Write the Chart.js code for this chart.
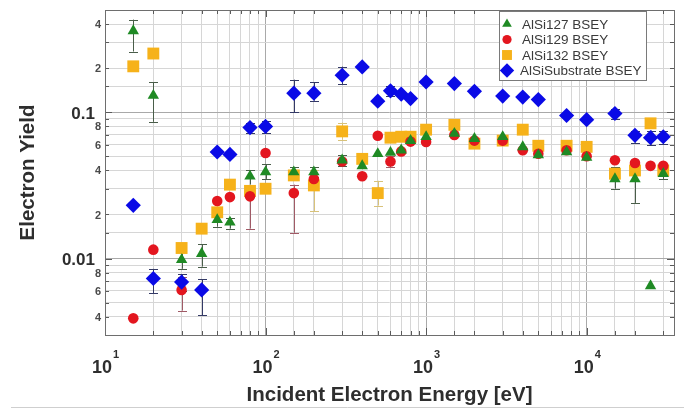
<!DOCTYPE html>
<html><head><meta charset="utf-8">
<script src="https://cdn.jsdelivr.net/npm/chart.js@4/dist/chart.umd.min.js"></script>
<style>html,body{margin:0;padding:0;background:#fff;}#wrap{width:684px;height:409px;}</style>
</head><body><div id="wrap"><canvas id="c" width="684" height="409"></canvas></div>
<script>
// ---- data ----
const energies = [15,20,30,40,50,60,80,100,150,200,300,400,500,600,700,800,1000,1500,2000,3000,4000,5000,7500,10000,15000,20000,25000,30000];
const seriesNames = ['AlSi127 BSEY','AlSi129 BSEY','AlSi132 BSEY','AlSiSubstrate BSEY'];
const aisi127 = [0.36,0.13,0.0098,0.0108,0.0184,0.0177,0.0365,0.039,0.039,0.039,0.047,0.043,0.052,0.053,0.055,0.064,0.068,0.0715,0.066,0.068,0.058,0.051,0.0535,0.049,0.035,0.035,0.0065,0.038];
const aisi127Lo = [0.26,0.086,0.0085,0.0088,0.0165,0.016,0.032,0.035,0.036,0.036,0.043,null,null,null,null,null,null,null,null,null,null,null,null,null,0.030,0.024,null,0.035];
const aisi127Hi = [0.43,0.16,0.0112,0.0125,0.020,0.019,0.040,0.044,0.042,0.042,0.051,null,null,null,null,null,null,null,null,null,null,null,null,null,0.042,0.042,null,0.043];
const aisi129 = [0.0039,0.0115,0.0061,null,0.0247,0.0263,0.0266,0.0526,0.028,0.035,0.046,0.0365,0.069,0.046,0.054,0.063,0.0626,0.070,0.064,0.064,0.055,0.052,0.055,0.050,0.047,0.045,0.043,0.043];
const aisi129Lo = [null,null,0.0044,null,null,null,0.016,null,0.015,null,null,null,null,0.042,null,null,null,null,null,null,null,null,null,null,null,null,null,null];
const aisi129Hi = [null,null,0.0075,null,null,null,0.030,null,0.032,null,null,null,null,0.050,null,null,null,null,null,null,null,null,null,null,null,null,null,null];
const aisi132 = [0.206,0.252,0.0118,0.016,0.0207,0.032,0.029,0.030,0.037,0.0316,0.074,0.048,0.028,0.067,0.068,0.068,0.076,0.082,0.061,0.064,0.076,0.059,0.059,0.058,0.038,0.040,0.084,0.040];
const aisi132Lo = [null,null,null,null,null,null,null,null,null,0.021,0.065,null,0.023,null,null,null,null,null,null,null,null,null,null,null,null,null,null,null];
const aisi132Hi = [null,null,null,null,null,null,null,null,null,0.040,0.085,null,0.034,null,null,null,null,null,null,null,null,null,null,null,null,null,null,null];
const substrate = [0.0231,0.0073,0.0069,0.0061,0.0535,0.0515,0.0785,0.080,0.135,0.135,0.179,0.204,0.119,0.140,0.133,0.124,0.161,0.157,0.139,0.129,0.127,0.122,0.095,0.089,0.098,0.0695,0.067,0.068];
const substrateLo = [null,0.0058,0.0060,0.0041,null,null,0.072,0.072,0.100,0.120,0.155,null,null,0.130,null,null,null,null,null,null,null,null,null,null,0.090,0.062,0.060,0.061];
const substrateHi = [null,0.0085,0.0078,0.0072,null,null,0.085,0.087,0.167,0.160,0.205,null,null,0.150,null,null,null,null,null,null,null,null,null,null,0.106,0.075,0.075,0.074];
const xTickValues = [10,100,1000,10000];
const xTickExps = ['1','2','3','4'];
const yTickValues = [0.4,0.2,0.1,0.08,0.06,0.04,0.02,0.01,0.008,0.006,0.004];
const yTickTexts = ['4','2','0.1','8','6','4','2','0.01','8','6','4'];
const xTitle = 'Incident Electron Energy [eV]';
const yTitle = 'Electron Yield';

// ---- styles ----
const FONT = '"Liberation Sans", Arial, Helvetica, sans-serif';
const styles = [
  {color:'#1f8a24', err:'#4a5e4a', style:'triangle', r:6.6, lr:5.6},
  {color:'#e3161f', err:'#a05a66', style:'circle', r:5.3, lr:4.6},
  {color:'#f6b21a', err:'#d8c27a', style:'rect', r:8.4, lr:7.0},
  {color:'#0a0ae6', err:'#343a66', style:'rectRot', r:7.6, lr:7.2}
];
const values = [aisi127, aisi129, aisi132, substrate];
const los = [aisi127Lo, aisi129Lo, aisi132Lo, substrateLo];
const his = [aisi127Hi, aisi129Hi, aisi132Hi, substrateHi];
const drawOrder = [1,2,3,0];

const datasets = values.map((vals,k)=>({
  label: seriesNames[k],
  data: energies.map((x,i)=>({x:x,y:vals[i]})).filter(p=>p.y!=null),
  pointStyle: styles[k].style,
  pointRadius: styles[k].r,
  pointHoverRadius: styles[k].r,
  backgroundColor: styles[k].color,
  borderColor: styles[k].color,
  pointBorderWidth: 0,
  borderWidth: 0,
  showLine: false,
  order: drawOrder[k]
}));

function isDecade(v){ const l=Math.log10(v); return Math.abs(l-Math.round(l))<1e-6; }

const decor = {
  id:'decor',
  beforeDatasetsDraw(chart){
    const ctx=chart.ctx, xs=chart.scales.x, ys=chart.scales.y, a=chart.chartArea;
    ctx.save();
    ctx.beginPath(); ctx.rect(a.left,a.top,a.right-a.left,a.bottom-a.top); ctx.clip();
    ctx.lineWidth=1;
    [2,1,0,3].forEach(k=>{
      ctx.strokeStyle=styles[k].err;
      energies.forEach((e,i)=>{
        const lo=los[k][i], hi=his[k][i];
        if(lo==null||hi==null) return;
        const px=Math.round(xs.getPixelForValue(e))+0.5;
        const y1=ys.getPixelForValue(lo), y2=ys.getPixelForValue(hi);
        ctx.beginPath();
        ctx.moveTo(px,y1); ctx.lineTo(px,y2);
        ctx.moveTo(px-4.5,Math.round(y1)+0.5); ctx.lineTo(px+4.5,Math.round(y1)+0.5);
        ctx.moveTo(px-4.5,Math.round(y2)+0.5); ctx.lineTo(px+4.5,Math.round(y2)+0.5);
        ctx.stroke();
      });
    });
    ctx.restore();
  },
  afterDraw(chart){
    const ctx=chart.ctx, xs=chart.scales.x, ys=chart.scales.y, a=chart.chartArea;
    ctx.save();
    // inner tick marks
    ctx.strokeStyle='#5a5a5a'; ctx.lineWidth=1;
    ctx.beginPath();
    xs.ticks.forEach(t=>{
      const px=Math.round(xs.getPixelForValue(t.value))+0.5;
      if(px<=a.left+1||px>=a.right-1) return;
      const len=isDecade(t.value)?7:4;
      ctx.moveTo(px,a.bottom); ctx.lineTo(px,a.bottom-len);
      ctx.moveTo(px,a.top); ctx.lineTo(px,a.top+len);
    });
    ys.ticks.forEach(t=>{
      const py=Math.round(ys.getPixelForValue(t.value))+0.5;
      if(py<=a.top+1||py>=a.bottom-1) return;
      const len=isDecade(t.value)?7:4;
      ctx.moveTo(a.left,py); ctx.lineTo(a.left+len,py);
      ctx.moveTo(a.right,py); ctx.lineTo(a.right-len,py);
    });
    ctx.stroke();
    // box
    ctx.strokeStyle='#6e6e6e';
    ctx.strokeRect(Math.round(a.left)+0.5,Math.round(a.top)+0.5,Math.round(a.right-a.left),Math.round(a.bottom-a.top));
    // y tick labels
    ctx.textAlign='right'; ctx.textBaseline='middle';
    yTickValues.forEach((v,i)=>{
      const py=ys.getPixelForValue(v);
      const txt=yTickTexts[i];
      if(txt.length>1){ ctx.font='bold 17px '+FONT; ctx.fillStyle='#2e2e2e'; ctx.fillText(txt,a.left-10,py+2); }
      else { ctx.font='bold 11px '+FONT; ctx.fillStyle='#4a4a4a'; ctx.fillText(txt,a.left-4,py+1); }
    });
    // x tick labels 10^n
    ctx.textBaseline='alphabetic';
    xTickValues.forEach((v,i)=>{
      const px=xs.getPixelForValue(v);
      ctx.font='bold 18px '+FONT; ctx.fillStyle='#2e2e2e'; ctx.textAlign='center';
      ctx.fillText('10',px-3,373);
      ctx.font='bold 11px '+FONT; ctx.textAlign='left';
      ctx.fillText(xTickExps[i],px+8,358);
    });
    // axis titles
    ctx.fillStyle='#2e2e2e'; ctx.font='bold 20.5px '+FONT; ctx.textAlign='center';
    ctx.fillText(xTitle,(a.left+a.right)/2,401);
    ctx.save();
    ctx.translate(34,(a.top+a.bottom)/2);
    ctx.rotate(-Math.PI/2);
    ctx.fillText(yTitle,0,0);
    ctx.restore();
    // legend
    ctx.fillStyle='#ffffff'; ctx.fillRect(499.5,11.5,147,69);
    ctx.strokeStyle='#7a7a7a'; ctx.lineWidth=1; ctx.strokeRect(499.5,11.5,147,69);
    const rows=[24,39.5,55,70.5];
    ctx.font='13.5px '+FONT; ctx.textAlign='left'; ctx.textBaseline='middle';
    seriesNames.forEach((n,k)=>{
      ctx.fillStyle=styles[k].color;
      Chart.helpers.drawPoint(ctx,{pointStyle:styles[k].style,radius:styles[k].lr,rotation:0,borderWidth:0},507,rows[k]);
      ctx.fillStyle='#3a3a3a';
      ctx.fillText(n,k===3?520:522,rows[k]+1);
    });
    // bottom rule of the picture
    ctx.strokeStyle='#cfcfcf'; ctx.beginPath(); ctx.moveTo(11,407.5); ctx.lineTo(684,407.5); ctx.stroke();
    ctx.restore();
  }
};

new Chart(document.getElementById('c'),{
  type:'scatter',
  data:{datasets:datasets},
  plugins:[decor],
  options:{
    responsive:false, animation:false, devicePixelRatio:1,
    layout:{padding:{top:10,right:10,left:0,bottom:0}},
    plugins:{legend:{display:false},tooltip:{enabled:false},title:{display:false}},
    scales:{
      x:{type:'logarithmic',min:10,max:35000,
         ticks:{display:false,autoSkip:false},
         grid:{color:c=>isDecade(c.tick.value)?'#a9a9a9':'#d6d6d6',lineWidth:1,drawTicks:false},
         border:{display:false},
         afterFit:s=>{s.height=74;}},
      y:{type:'logarithmic',min:0.003,max:0.5,
         ticks:{display:false,autoSkip:false},
         grid:{color:c=>isDecade(c.tick.value)?'#a9a9a9':'#d6d6d6',lineWidth:1,drawTicks:false},
         border:{display:false},
         afterFit:s=>{s.width=105;}}
    }
  }
});
</script></body></html>
